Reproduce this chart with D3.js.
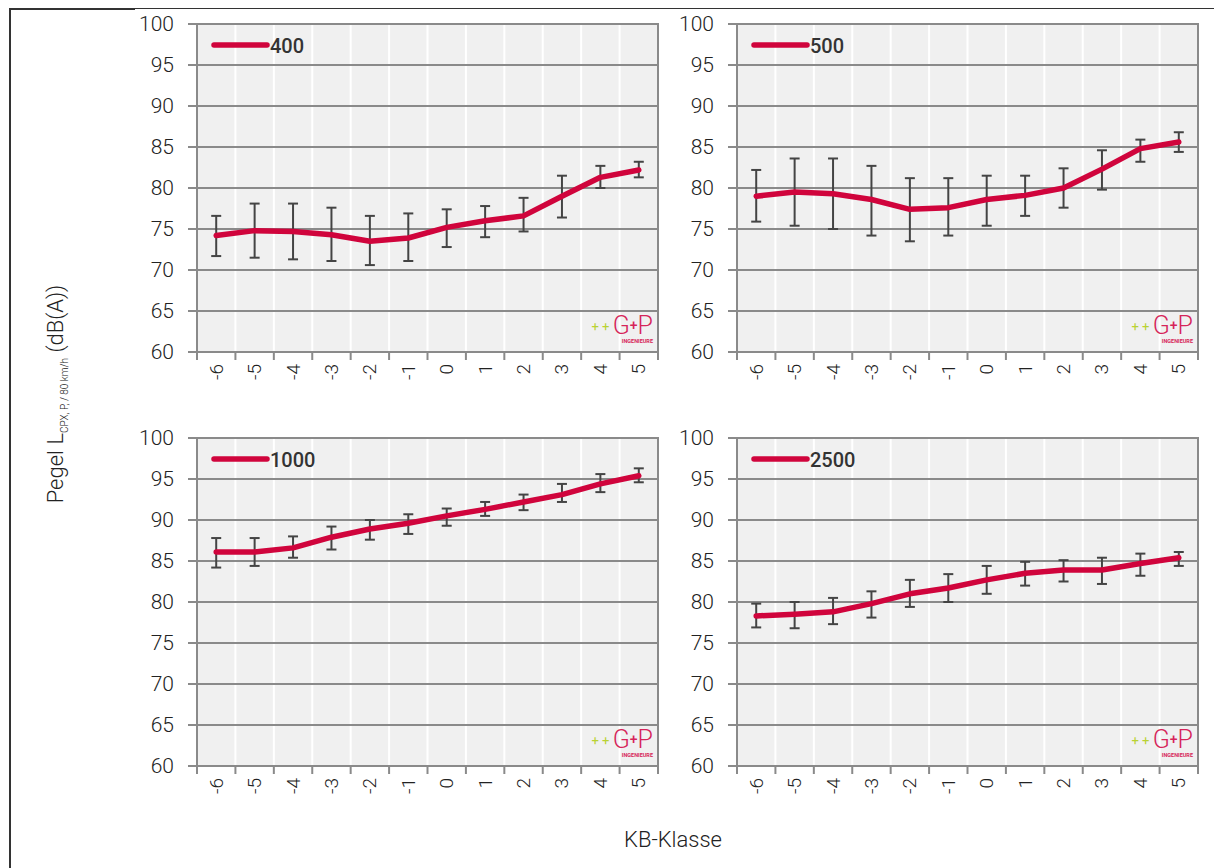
<!DOCTYPE html>
<html>
<head>
<meta charset="utf-8">
<script src="https://cdn.jsdelivr.net/npm/d3@7"></script>
<style>
  html, body { margin: 0; padding: 0; background: #fff; }
  svg { display: block; }
  text { font-family: Roboto, "Open Sans", sans-serif; }
</style>
</head>
<body>
<svg id="chart" width="1214" height="868"></svg>
<script>
// KB classes on the x axis
const classes = [-6, -5, -4, -3, -2, -1, 0, 1, 2, 3, 4, 5];
const yTicks = [60, 65, 70, 75, 80, 85, 90, 95, 100];

// Mean level per class and the bounds of the error bars, one set per series
const names = ["400", "500", "1000", "2500"];

const mean400 = [74.2, 74.8, 74.7, 74.3, 73.5, 73.9, 75.2, 76.0, 76.6, 79.0, 81.3, 82.2];
const high400 = [76.6, 78.1, 78.1, 77.6, 76.6, 76.9, 77.4, 77.8, 78.8, 81.5, 82.7, 83.2];
const low400  = [71.7, 71.5, 71.3, 71.1, 70.6, 71.1, 72.8, 74.0, 74.7, 76.4, 80.0, 81.3];

const mean500 = [79.0, 79.5, 79.3, 78.6, 77.4, 77.6, 78.6, 79.1, 80.0, 82.3, 84.8, 85.6];
const high500 = [82.2, 83.6, 83.6, 82.7, 81.2, 81.2, 81.5, 81.5, 82.4, 84.6, 85.9, 86.8];
const low500  = [75.9, 75.4, 75.0, 74.2, 73.5, 74.2, 75.4, 76.6, 77.6, 79.8, 83.2, 84.4];

const mean1000 = [86.1, 86.1, 86.6, 87.9, 88.9, 89.6, 90.5, 91.3, 92.2, 93.1, 94.4, 95.4];
const high1000 = [87.8, 87.8, 88.0, 89.2, 90.0, 90.7, 91.4, 92.2, 93.1, 94.4, 95.6, 96.3];
const low1000  = [84.2, 84.4, 85.4, 86.4, 87.6, 88.3, 89.3, 90.5, 91.2, 92.2, 93.4, 94.6];

const mean2500 = [78.3, 78.5, 78.8, 79.8, 81.0, 81.7, 82.7, 83.5, 83.9, 83.9, 84.7, 85.4];
const high2500 = [79.8, 80.0, 80.5, 81.3, 82.7, 83.4, 84.4, 84.9, 85.1, 85.4, 85.9, 86.1];
const low2500  = [76.9, 76.8, 77.3, 78.1, 79.4, 80.0, 81.0, 82.0, 82.5, 82.2, 83.2, 84.4];

const meanSets = [mean400, mean500, mean1000, mean2500];
const highSets = [high400, high500, high1000, high2500];
const lowSets  = [low400, low500, low1000, low2500];

const RED = "#d0043c";
const GRID = "#8a8a8a";

const svg = d3.select("#chart");

// Outer frame fragments
svg.append("line").attr("x1", 10).attr("x2", 1214).attr("y1", 8.5).attr("y2", 8.5)
  .attr("stroke", "#333").attr("stroke-width", 1.2);
svg.append("line").attr("x1", 10).attr("x2", 135).attr("y1", 9).attr("y2", 9)
  .attr("stroke", "#333").attr("stroke-width", 2);
svg.append("line").attr("x1", 10).attr("x2", 10).attr("y1", 8).attr("y2", 868)
  .attr("stroke", "#333").attr("stroke-width", 2);

// Panel placement
const panels = [
  { x0: 197, x1: 658, y0: 24, y1: 352 },
  { x0: 737, x1: 1198, y0: 24, y1: 352 },
  { x0: 197, x1: 658, y0: 438, y1: 766 },
  { x0: 737, x1: 1198, y0: 438, y1: 766 }
];

panels.forEach((p, i) => {
  const g = svg.append("g");
  const x = d3.scaleBand().domain(classes).range([p.x0, p.x1]);
  const y = d3.scaleLinear().domain([60, 100]).range([p.y1, p.y0]);

  // plot background
  g.append("rect").attr("x", p.x0).attr("y", p.y0)
    .attr("width", p.x1 - p.x0).attr("height", p.y1 - p.y0).attr("fill", "#f0f0f0");

  // vertical white grid lines at band boundaries
  classes.slice(1).forEach(c => {
    g.append("line").attr("x1", x(c)).attr("x2", x(c)).attr("y1", p.y0).attr("y2", p.y1)
      .attr("stroke", "#fff").attr("stroke-width", 2);
  });

  // horizontal grid lines plus y ticks
  yTicks.forEach(t => {
    g.append("line").attr("x1", p.x0 - 9).attr("x2", p.x1).attr("y1", y(t)).attr("y2", y(t))
      .attr("stroke", GRID).attr("stroke-width", 2);
    g.append("text").attr("x", p.x0 - 23).attr("y", y(t))
      .attr("text-anchor", "end").attr("dominant-baseline", "central")
      .attr("font-size", 21).attr("font-weight", 300).attr("fill", "#222")
      .text(t);
  });

  // left axis and right border
  g.append("line").attr("x1", p.x0).attr("x2", p.x0).attr("y1", p.y0 - 1).attr("y2", p.y1 + 8)
    .attr("stroke", GRID).attr("stroke-width", 2);
  g.append("line").attr("x1", p.x1).attr("x2", p.x1).attr("y1", p.y0 - 1).attr("y2", p.y1 + 8)
    .attr("stroke", GRID).attr("stroke-width", 2);

  // x ticks at band boundaries
  classes.slice(1).forEach(c => {
    g.append("line").attr("x1", x(c)).attr("x2", x(c)).attr("y1", p.y1).attr("y2", p.y1 + 8)
      .attr("stroke", GRID).attr("stroke-width", 2);
  });

  // rotated x tick labels
  classes.forEach(c => {
    g.append("text")
      .attr("transform", `translate(${x(c) + x.bandwidth() / 2},${p.y1 + 12}) rotate(-90)`)
      .attr("text-anchor", "end").attr("dominant-baseline", "central")
      .attr("font-size", 19).attr("font-weight", 300).attr("fill", "#222")
      .text(c);
  });

  const cx = c => x(c) + x.bandwidth() / 2;
  const mean = meanSets[i], hi = highSets[i], lo = lowSets[i];

  // error bars
  classes.forEach((c, k) => {
    const xc = cx(c);
    g.append("line").attr("x1", xc).attr("x2", xc).attr("y1", y(hi[k])).attr("y2", y(lo[k]))
      .attr("stroke", "#444").attr("stroke-width", 2);
    [hi[k], lo[k]].forEach(v => {
      g.append("line").attr("x1", xc - 5).attr("x2", xc + 5).attr("y1", y(v)).attr("y2", y(v))
        .attr("stroke", "#444").attr("stroke-width", 2);
    });
  });

  // mean line
  g.append("path")
    .datum(classes.map((c, k) => [cx(c), y(mean[k])]))
    .attr("d", d3.line())
    .attr("fill", "none").attr("stroke", RED).attr("stroke-width", 5.5)
    .attr("stroke-linejoin", "round").attr("stroke-linecap", "round");

  // legend
  g.append("line").attr("x1", p.x0 + 17).attr("x2", p.x0 + 70)
    .attr("y1", p.y0 + 21).attr("y2", p.y0 + 21)
    .attr("stroke", RED).attr("stroke-width", 5.5).attr("stroke-linecap", "round");
  g.append("text").attr("x", p.x0 + 73).attr("y", p.y0 + 22)
    .attr("dominant-baseline", "central").attr("font-size", 20).attr("font-weight", 500)
    .attr("fill", "#333").text(names[i]);

  // company mark
  const lx = p.x1 - 5, ly = p.y1 - 18;
  const logo = g.append("text").attr("x", lx).attr("y", ly).attr("text-anchor", "end")
    .attr("font-size", 25).attr("font-weight", 300);
  logo.append("tspan").attr("fill", "#b9d232").attr("font-size", 13).attr("font-weight", 400)
    .attr("dy", -3).text("+ + ");
  logo.append("tspan").attr("fill", "#d6245a").attr("dy", 3).text("G");
  logo.append("tspan").attr("fill", "#d6245a").attr("font-size", 14).attr("font-weight", 500)
    .attr("dy", -4).text("+");
  logo.append("tspan").attr("fill", "#d6245a").attr("dy", 4).text("P");
  g.append("text").attr("x", lx).attr("y", ly + 9).attr("text-anchor", "end")
    .attr("font-size", 5.5).attr("font-weight", 700).attr("fill", "#d6245a")
    .text("INGENIEURE");
});

// axis titles
const yl = svg.append("text")
  .attr("transform", "translate(63,394) rotate(-90)")
  .attr("text-anchor", "middle").attr("font-size", 22).attr("font-weight", 300).attr("fill", "#222");
yl.append("tspan").text("Pegel L");
yl.append("tspan").attr("font-size", 10).attr("dy", 5).text("CPX, P, / 80 km/h");
yl.append("tspan").attr("dy", -5).text(" (dB(A))");

svg.append("text").attr("x", 673).attr("y", 847).attr("text-anchor", "middle")
  .attr("font-size", 22).attr("font-weight", 300).attr("fill", "#222").text("KB-Klasse");
</script>
</body>
</html>
